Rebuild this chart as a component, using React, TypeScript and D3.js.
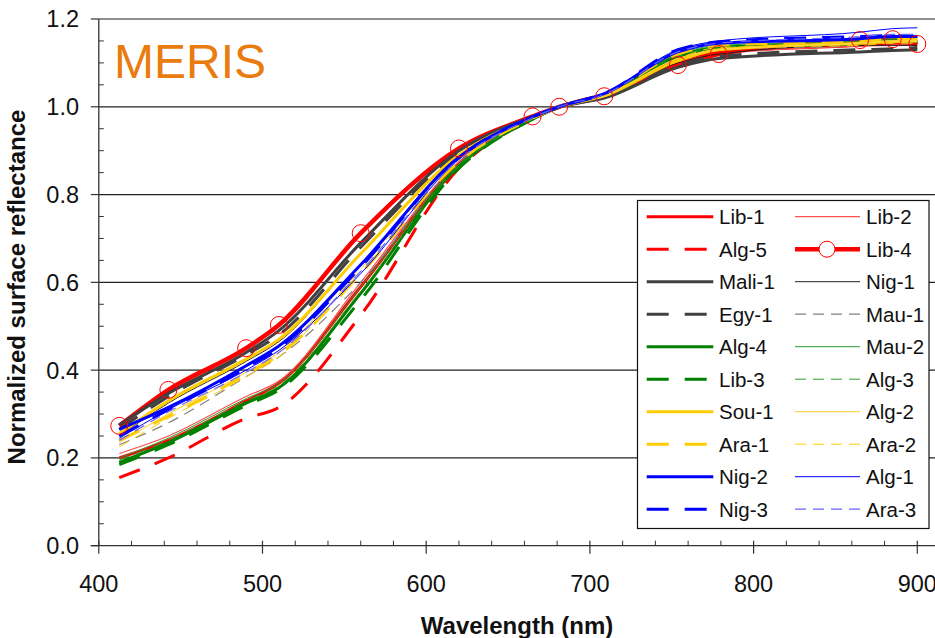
import React from "react";
import * as d3 from "d3";

const wavelengths = [412.5, 442.5, 490, 510, 560, 620, 665, 681.25, 708.75, 753.75, 778.75, 865, 885, 900];

const lib1 = [0.2, 0.24, 0.33, 0.37, 0.59, 0.87, 0.973, 1.0, 1.025, 1.105, 1.125, 1.14, 1.145, 1.145];
const lib2 = [0.21, 0.25, 0.34, 0.375, 0.6, 0.875, 0.974, 1.0, 1.025, 1.1, 1.12, 1.138, 1.14, 1.14];
const alg5 = [0.155, 0.2, 0.29, 0.315, 0.525, 0.86, 0.972, 1.0, 1.03, 1.11, 1.13, 1.145, 1.15, 1.145];
const lib4 = [0.273, 0.355, 0.45, 0.503, 0.712, 0.905, 0.978, 1.0, 1.024, 1.095, 1.12, 1.152, 1.154, 1.143];
const mali1 = [0.275, 0.347, 0.44, 0.49, 0.69, 0.9, 0.978, 1.0, 1.02, 1.09, 1.11, 1.125, 1.128, 1.13];
const nig1 = [0.25, 0.325, 0.42, 0.465, 0.665, 0.89, 0.975, 1.0, 1.025, 1.1, 1.12, 1.14, 1.14, 1.14];
const egy1 = [0.265, 0.34, 0.435, 0.48, 0.68, 0.895, 0.976, 1.0, 1.022, 1.095, 1.115, 1.13, 1.132, 1.135];
const mau1 = [0.23, 0.28, 0.385, 0.43, 0.6, 0.875, 0.974, 1.0, 1.026, 1.11, 1.13, 1.14, 1.145, 1.145];
const alg4 = [0.19, 0.235, 0.325, 0.36, 0.575, 0.865, 0.972, 1.0, 1.028, 1.115, 1.135, 1.145, 1.15, 1.15];
const mau2 = [0.2, 0.245, 0.335, 0.37, 0.59, 0.87, 0.973, 1.0, 1.03, 1.12, 1.14, 1.15, 1.155, 1.155];
const lib3 = [0.185, 0.23, 0.32, 0.355, 0.56, 0.86, 0.972, 1.0, 1.028, 1.115, 1.135, 1.145, 1.15, 1.148];
const alg3 = [0.195, 0.24, 0.33, 0.365, 0.58, 0.865, 0.972, 1.0, 1.028, 1.115, 1.135, 1.148, 1.152, 1.15];
const sou1 = [0.255, 0.33, 0.425, 0.47, 0.665, 0.89, 0.976, 1.0, 1.025, 1.105, 1.13, 1.145, 1.148, 1.15];
const alg2 = [0.235, 0.3, 0.395, 0.44, 0.64, 0.885, 0.976, 1.0, 1.025, 1.11, 1.13, 1.145, 1.15, 1.15];
const ara1 = [0.24, 0.295, 0.39, 0.435, 0.62, 0.875, 0.974, 1.0, 1.028, 1.12, 1.14, 1.15, 1.155, 1.155];
const ara2 = [0.225, 0.29, 0.385, 0.43, 0.63, 0.88, 0.975, 1.0, 1.026, 1.11, 1.135, 1.14, 1.145, 1.145];
const nig2 = [0.265, 0.315, 0.41, 0.455, 0.64, 0.885, 0.977, 1.0, 1.03, 1.125, 1.145, 1.155, 1.16, 1.16];
const alg1 = [0.245, 0.31, 0.4, 0.445, 0.62, 0.88, 0.975, 1.0, 1.03, 1.13, 1.15, 1.17, 1.178, 1.18];
const nig3 = [0.25, 0.31, 0.405, 0.45, 0.635, 0.885, 0.977, 1.0, 1.03, 1.13, 1.148, 1.16, 1.162, 1.16];
const ara3 = [0.24, 0.305, 0.395, 0.44, 0.625, 0.88, 0.975, 1.0, 1.028, 1.125, 1.145, 1.16, 1.165, 1.165];

const xTicks = [400, 500, 600, 700, 800, 900];
const yTicks = [0, 0.2, 0.4, 0.6, 0.8, 1.0, 1.2];

const THICK_DASH = "22,16";
const THIN_DASH = "11,7";

const series = [
  { name: "Lib-1", values: lib1, color: "#FF0000", width: 3, dash: null, col: 0 },
  { name: "Lib-2", values: lib2, color: "#FF5050", width: 1.2, dash: null, col: 1 },
  { name: "Alg-5", values: alg5, color: "#FF0000", width: 3, dash: THICK_DASH, col: 0 },
  { name: "Lib-4", values: lib4, color: "#FF0000", width: 4.5, dash: null, col: 1, marker: true },
  { name: "Mali-1", values: mali1, color: "#404040", width: 3, dash: null, col: 0 },
  { name: "Nig-1", values: nig1, color: "#202020", width: 1, dash: null, col: 1 },
  { name: "Egy-1", values: egy1, color: "#404040", width: 3, dash: THICK_DASH, col: 0 },
  { name: "Mau-1", values: mau1, color: "#808080", width: 1.2, dash: THIN_DASH, col: 1 },
  { name: "Alg-4", values: alg4, color: "#008000", width: 3, dash: null, col: 0 },
  { name: "Mau-2", values: mau2, color: "#2E9B2E", width: 1, dash: null, col: 1 },
  { name: "Lib-3", values: lib3, color: "#008000", width: 3, dash: THICK_DASH, col: 0 },
  { name: "Alg-3", values: alg3, color: "#2E9B2E", width: 1, dash: THIN_DASH, col: 1 },
  { name: "Sou-1", values: sou1, color: "#FFCC00", width: 3, dash: null, col: 0 },
  { name: "Alg-2", values: alg2, color: "#FFD54F", width: 1.2, dash: null, col: 1 },
  { name: "Ara-1", values: ara1, color: "#FFCC00", width: 3, dash: THICK_DASH, col: 0 },
  { name: "Ara-2", values: ara2, color: "#FFCC00", width: 1, dash: THIN_DASH, col: 1 },
  { name: "Nig-2", values: nig2, color: "#0000FF", width: 3, dash: null, col: 0 },
  { name: "Alg-1", values: alg1, color: "#0000FF", width: 1, dash: null, col: 1 },
  { name: "Nig-3", values: nig3, color: "#0000FF", width: 3, dash: THICK_DASH, col: 0 },
  { name: "Ara-3", values: ara3, color: "#6666FF", width: 1.2, dash: THIN_DASH, col: 1 },
];

const FONT = "'Liberation Sans', Arial, Helvetica, sans-serif";

export default function App() {
  const W = 935;
  const H = 638;
  const x = d3.scaleLinear().domain([400, 900]).range([98.8, 917.3]);
  const y = d3.scaleLinear().domain([0, 1.2]).range([545.7, 19]);
  const x0 = x(400);
  const xEnd = 935;
  const y0 = y(0);

  const line = d3
    .line<[number, number]>()
    .x((d) => x(d[0]))
    .y((d) => y(d[1]))
    .curve(d3.curveMonotoneX);

  const minorX = d3.range(400, 921, 20).filter((v) => v % 100 !== 0);
  const minorY = d3.range(0, 1.2001, 0.05).filter((v) => Math.abs(Math.round(v / 0.2) * 0.2 - v) > 1e-6);
  const fmt = d3.format(".1f");

  const lg = { x: 637.5, y: 200.5, w: 291.5, h: 328, row0: 216.7, rowH: 32.5 };
  const colX = [
    { l1: 646.7, l2: 713.3, t: 719 },
    { l1: 795, l2: 860, t: 866 },
  ];

  return (
    <svg
      width={W}
      height={H}
      style={{ position: "absolute", left: 0, top: 0, background: "#fff" }}
      fontFamily={FONT}
    >
      <rect x={0} y={0} width={W} height={H} fill="#fff" />
      {yTicks.filter((t) => t > 0).map((t) => (
        <line key={"g" + t} x1={x0} x2={xEnd} y1={y(t)} y2={y(t)} stroke="#222" strokeWidth={1.2} />
      ))}
      <line x1={x0} x2={x0} y1={y(1.2)} y2={y0} stroke="#333" strokeWidth={1.3} />
      {yTicks.map((t) => (
        <g key={"yt" + t}>
          <line x1={x0 - 8} x2={x0} y1={y(t)} y2={y(t)} stroke="#333" strokeWidth={1.2} />
          <text x={79} y={y(t)} dy="0.36em" textAnchor="end" fontSize={23.5} fill="#111">
            {fmt(t)}
          </text>
        </g>
      ))}
      {minorY.map((t) => (
        <line key={"my" + t} x1={x0} x2={x0 + 5} y1={y(t)} y2={y(t)} stroke="#333" strokeWidth={1} />
      ))}
      <line x1={x0 - 8} x2={xEnd} y1={y0} y2={y0} stroke="#333" strokeWidth={1.3} />
      {xTicks.map((t) => (
        <g key={"xt" + t}>
          <line x1={x(t)} x2={x(t)} y1={y0 - 5} y2={y0 + 8} stroke="#333" strokeWidth={1.2} />
          <text x={x(t)} y={592} textAnchor="middle" fontSize={23.5} fill="#111">
            {t}
          </text>
        </g>
      ))}
      {minorX.map((t) => (
        <line key={"mx" + t} x1={x(t)} x2={x(t)} y1={y0 - 5} y2={y0} stroke="#333" strokeWidth={1} />
      ))}

      <g>
        {series.map((s) => (
          <path
            key={s.name}
            d={line(wavelengths.map((w, i) => [w, s.values[i]] as [number, number])) || ""}
            fill="none"
            stroke={s.color}
            strokeWidth={s.width}
            strokeDasharray={s.dash || undefined}
            strokeLinejoin="round"
          />
        ))}
        {series
          .filter((s) => s.marker)
          .map((s) =>
            wavelengths.map((w, i) => (
              <circle
                key={s.name + "m" + i}
                cx={x(w)}
                cy={y(s.values[i])}
                r={8.5}
                fill="none"
                stroke="#FF0000"
                strokeWidth={1}
              />
            ))
          )}
      </g>

      <text x={114} y={78} fontSize={48} fill="#E97B0F">
        MERIS
      </text>

      <text x={517} y={634} textAnchor="middle" fontSize={24} fontWeight="bold" fill="#111">
        Wavelength (nm)
      </text>
      <text
        transform={`translate(25,287) rotate(-90)`}
        textAnchor="middle"
        fontSize={24}
        fontWeight="bold"
        fill="#111"
      >
        Normalized surface reflectance
      </text>

      <rect x={lg.x} y={lg.y} width={lg.w} height={lg.h} fill="#fff" stroke="#111" strokeWidth={1.2} />
      {series.map((s, i) => {
        const row = Math.floor(i / 2);
        const cy = lg.row0 + row * lg.rowH;
        const c = colX[s.col];
        return (
          <g key={"lg" + s.name}>
            <line
              x1={c.l1}
              x2={c.l2}
              y1={cy}
              y2={cy}
              stroke={s.color}
              strokeWidth={s.width}
              strokeDasharray={s.dash || undefined}
            />
            {s.marker && (
              <circle cx={827} cy={cy} r={8} fill="#fff" stroke="#FF0000" strokeWidth={1} />
            )}
            <text x={c.t} y={cy} dy="0.36em" fontSize={20.5} fill="#111">
              {s.name}
            </text>
          </g>
        );
      })}
    </svg>
  );
}
